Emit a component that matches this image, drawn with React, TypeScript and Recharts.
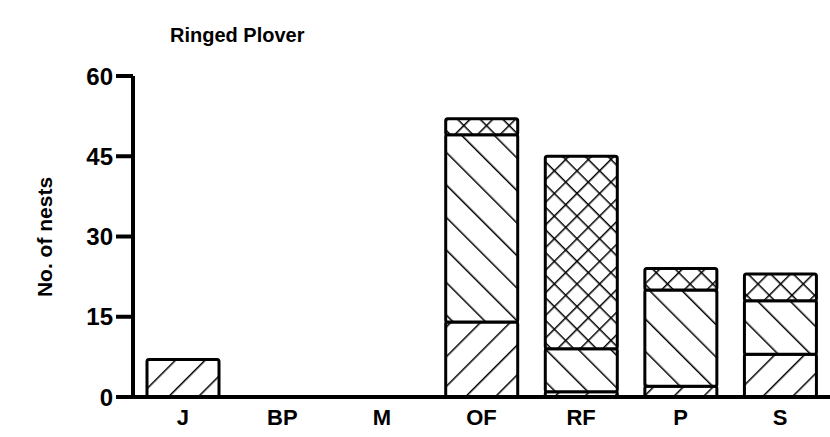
import { BarChart, Bar, XAxis, YAxis } from "recharts";

// nest counts per site
const sites = ["J", "BP", "M", "OF", "RF", "P", "S"];
const forwardHatch = [7, 0, 0, 14, 1, 2, 8];
const backHatch = [0, 0, 0, 35, 8, 18, 10];
const crossHatch = [0, 0, 0, 3, 36, 4, 5];
const yTicks = [0, 15, 30, 45, 60];

const data = sites.map((site, i) => ({
  site,
  fwd: forwardHatch[i],
  back: backHatch[i],
  cross: crossHatch[i],
}));

const font = "'Liberation Sans', Arial, sans-serif";

export default function App() {
  return (
    <div style={{ position: "absolute", left: 0, top: 0, background: "#fff" }}>
      <BarChart
        width={830}
        height={437}
        data={data}
        margin={{ top: 76, right: 0, bottom: 0, left: 0 }}
        barSize={72}
      >
        <defs>
          <pattern id="fwd" patternUnits="userSpaceOnUse" width="21" height="21" patternTransform="rotate(45)">
            <rect width="21" height="21" fill="#fff" />
            <line x1="0" y1="0" x2="0" y2="21" stroke="#000" strokeWidth="3" />
          </pattern>
          <pattern id="back" patternUnits="userSpaceOnUse" width="23" height="23" patternTransform="rotate(-45)">
            <rect width="23" height="23" fill="#fff" />
            <line x1="0" y1="0" x2="0" y2="23" stroke="#000" strokeWidth="3" />
          </pattern>
          <pattern id="cross" patternUnits="userSpaceOnUse" width="16" height="16" patternTransform="rotate(45)">
            <rect width="16" height="16" fill="#fff" />
            <line x1="0" y1="0" x2="0" y2="16" stroke="#000" strokeWidth="3" />
            <line x1="0" y1="0" x2="16" y2="0" stroke="#000" strokeWidth="3" />
          </pattern>
        </defs>
        <text x={170} y={42} fontFamily={font} fontWeight="bold" fontSize={20} fill="#000">
          Ringed Plover
        </text>
        <text
          x={0}
          y={0}
          transform="translate(52,237) rotate(-90)"
          textAnchor="middle"
          fontFamily={font}
          fontWeight="bold"
          fontSize={21}
          fill="#000"
        >
          No. of nests
        </text>
        <XAxis
          dataKey="site"
          height={40}
          axisLine={{ stroke: "#000", strokeWidth: 4 }}
          tickLine={false}
          tickMargin={6}
          tick={{ fill: "#000", fontSize: 22, fontWeight: "bold", fontFamily: font }}
        />
        <YAxis
          width={133}
          domain={[0, 60]}
          ticks={yTicks}
          interval={0}
          axisLine={{ stroke: "#000", strokeWidth: 4 }}
          tickLine={{ stroke: "#000", strokeWidth: 4 }}
          tickSize={17}
          tickMargin={3}
          tick={{ fill: "#000", fontSize: 24, fontWeight: "bold", fontFamily: font }}
        />
        <Bar dataKey="fwd" stackId="a" fill="url(#fwd)" stroke="#000" strokeWidth={3} radius={2} isAnimationActive={false} />
        <Bar dataKey="back" stackId="a" fill="url(#back)" stroke="#000" strokeWidth={3} radius={2} isAnimationActive={false} />
        <Bar dataKey="cross" stackId="a" fill="url(#cross)" stroke="#000" strokeWidth={3} radius={2} isAnimationActive={false} />
      </BarChart>
    </div>
  );
}
